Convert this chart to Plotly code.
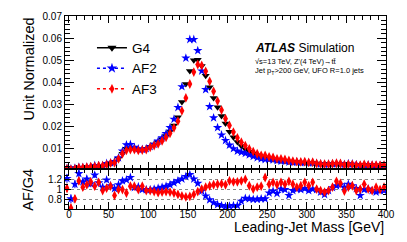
import plotly.graph_objects as go

# Bin centres (5 GeV bins)
mass = [-2.5 + 5 * i for i in range(81)]

g4 = [0.0010, 0.0011, 0.0012, 0.0013, 0.0014, 0.0015, 0.0017, 0.0019, 0.0021, 0.0024,
      0.0028, 0.0034, 0.0042, 0.0055, 0.0078, 0.0100, 0.0103, 0.0100, 0.0096, 0.0096,
      0.0101, 0.0110, 0.0120, 0.0131, 0.0143, 0.0158, 0.0178, 0.0205, 0.0243, 0.0312,
      0.0393, 0.0452, 0.0500, 0.0503, 0.0474, 0.0430, 0.0378, 0.0330, 0.0288, 0.0248,
      0.0215, 0.0177, 0.0152, 0.0131, 0.0113, 0.0098, 0.0087, 0.0078, 0.0071, 0.0066,
      0.0061, 0.0057, 0.0053, 0.0050, 0.0047, 0.0045, 0.0043, 0.0041, 0.0040, 0.0038,
      0.0037, 0.0036, 0.0035, 0.0034, 0.0033, 0.0032, 0.0032, 0.0031, 0.0030, 0.0030,
      0.0029, 0.0029, 0.0028, 0.0028, 0.0027, 0.0027, 0.0026, 0.0026, 0.0026, 0.0025,
      0.0025]

af2 = [0.0012, 0.0009, 0.0013, 0.0017, 0.0016, 0.0018, 0.0019, 0.0025, 0.0024, 0.0025,
       0.0034, 0.0037, 0.0043, 0.0060, 0.0090, 0.0118, 0.0120, 0.0107, 0.0100, 0.0098,
       0.0101, 0.0110, 0.0121, 0.0135, 0.0150, 0.0169, 0.0196, 0.0234, 0.0287, 0.0381,
       0.0510, 0.0594, 0.0594, 0.0544, 0.0452, 0.0368, 0.0291, 0.0240, 0.0196, 0.0163,
       0.0138, 0.0117, 0.0101, 0.0090, 0.0085, 0.0080, 0.0073, 0.0066, 0.0060, 0.0055,
       0.0052, 0.0052, 0.0051, 0.0047, 0.0045, 0.0045, 0.0040, 0.0039, 0.0041, 0.0038,
       0.0038, 0.0037, 0.0037, 0.0034, 0.0032, 0.0030, 0.0031, 0.0032, 0.0034, 0.0033,
       0.0030, 0.0033, 0.0032, 0.0029, 0.0024, 0.0027, 0.0028, 0.0026, 0.0025, 0.0025,
       0.0025]

af3 = [0.0010, 0.0007, 0.0010, 0.0015, 0.0015, 0.0017, 0.0020, 0.0020, 0.0024, 0.0024,
       0.0029, 0.0036, 0.0037, 0.0055, 0.0078, 0.0093, 0.0097, 0.0097, 0.0093, 0.0095,
       0.0097, 0.0107, 0.0115, 0.0123, 0.0136, 0.0152, 0.0170, 0.0195, 0.0225, 0.0272,
       0.0330, 0.0393, 0.0447, 0.0481, 0.0477, 0.0450, 0.0405, 0.0360, 0.0316, 0.0275,
       0.0236, 0.0206, 0.0176, 0.0150, 0.0130, 0.0115, 0.0100, 0.0088, 0.0078, 0.0071,
       0.0070, 0.0064, 0.0061, 0.0055, 0.0055, 0.0052, 0.0048, 0.0045, 0.0042, 0.0041,
       0.0042, 0.0039, 0.0040, 0.0034, 0.0032, 0.0031, 0.0031, 0.0033, 0.0035, 0.0034,
       0.0028, 0.0030, 0.0030, 0.0027, 0.0027, 0.0030, 0.0026, 0.0026, 0.0027, 0.0025,
       0.0026]

ratio_af2 = [1.23, 0.81, 1.11, 1.33, 1.16, 1.22, 1.12, 1.30, 1.14, 1.05,
             1.20, 1.08, 1.02, 1.10, 1.18, 1.20, 1.25, 1.04, 1.06, 1.00,
             1.00, 1.00, 1.01, 1.03, 1.05, 1.07, 1.10, 1.14, 1.18, 1.22,
             1.27, 1.31, 1.22, 1.13, 0.97, 0.87, 0.79, 0.73, 0.69, 0.67,
             0.65, 0.66, 0.67, 0.67, 0.76, 0.82, 0.81, 0.80, 0.80, 0.81,
             0.81, 0.93, 0.97, 0.92, 1.01, 1.00, 0.88, 0.98, 1.01, 1.00,
             1.02, 0.98, 1.01, 1.00, 0.95, 0.90, 0.98, 1.04, 1.08, 1.10,
             1.05, 1.11, 1.08, 1.02, 0.88, 1.00, 1.01, 0.98, 0.95, 0.98,
             0.98]

ratio_af3 = [1.03, 0.62, 0.81, 1.18, 1.05, 1.10, 1.16, 1.07, 1.15, 0.98,
             1.03, 1.07, 0.88, 1.00, 1.00, 0.93, 1.07, 1.07, 1.00, 1.07,
             0.98, 0.98, 0.96, 0.94, 0.95, 0.96, 0.95, 0.93, 0.90, 0.87,
             0.85, 0.86, 0.90, 0.96, 1.01, 1.05, 1.08, 1.10, 1.11, 1.12,
             1.10, 1.18, 1.16, 1.16, 1.18, 1.21, 1.08, 1.01, 1.05, 1.07,
             1.25, 1.11, 1.15, 1.10, 1.15, 1.11, 1.17, 1.11, 1.05, 1.08,
             1.15, 1.08, 1.15, 1.01, 0.98, 0.95, 0.98, 1.05, 1.17, 1.13,
             0.97, 1.05, 1.08, 0.98, 1.01, 1.11, 1.01, 0.98, 1.05, 1.00,
             1.05]

ratio_err = [0.09, 0.09, 0.08, 0.08, 0.07, 0.07, 0.07, 0.06, 0.06, 0.06,
             0.05, 0.05, 0.04, 0.04, 0.03, 0.02, 0.02, 0.02, 0.02, 0.02,
             0.02, 0.02, 0.02, 0.02, 0.02, 0.02, 0.02, 0.02, 0.01, 0.01,
             0.01, 0.01, 0.01, 0.01, 0.01, 0.01, 0.01, 0.01, 0.01, 0.02,
             0.02, 0.02, 0.02, 0.02, 0.02, 0.02, 0.02, 0.03, 0.03, 0.03,
             0.03, 0.03, 0.03, 0.03, 0.03, 0.03, 0.03, 0.03, 0.03, 0.03,
             0.04, 0.04, 0.04, 0.04, 0.04, 0.04, 0.04, 0.04, 0.04, 0.04,
             0.04, 0.04, 0.04, 0.04, 0.04, 0.04, 0.04, 0.04, 0.04, 0.04,
             0.04]

x_ticks = [0, 50, 100, 150, 200, 250, 300, 350, 400]
main_y_ticks = [0.01, 0.02, 0.03, 0.04, 0.05, 0.06, 0.07]
ratio_ticks = [0.8, 1.0, 1.2]
ratio_tick_text = ["0.8", "1", "1.2"]

FONT = "Liberation Sans, Arial, Helvetica, sans-serif"
BLUE = "#0000ff"
RED = "#ff0000"

fig = go.Figure()

# main panel
fig.add_trace(go.Scatter(x=mass, y=g4, mode="markers", xaxis="x", yaxis="y",
                         marker=dict(symbol="triangle-down", size=7, color="black"),
                         showlegend=False))
fig.add_trace(go.Scatter(x=mass, y=af2, mode="markers", xaxis="x", yaxis="y",
                         marker=dict(symbol="star", size=7, color=BLUE, line=dict(width=0)),
                         showlegend=False))
fig.add_trace(go.Scatter(x=mass, y=af3, mode="markers", xaxis="x", yaxis="y",
                         marker=dict(symbol="diamond-tall", size=7, color=RED, line=dict(width=0)),
                         showlegend=False))

# ratio panel
fig.add_trace(go.Scatter(x=mass, y=ratio_af2, mode="markers", xaxis="x2", yaxis="y2",
                         marker=dict(symbol="star", size=7, color=BLUE, line=dict(width=0)),
                         error_y=dict(type="data", array=ratio_err, color=BLUE, thickness=1, width=0),
                         showlegend=False))
fig.add_trace(go.Scatter(x=mass, y=ratio_af3, mode="markers", xaxis="x2", yaxis="y2",
                         marker=dict(symbol="diamond-tall", size=7, color=RED, line=dict(width=0)),
                         error_y=dict(type="data", array=ratio_err, color=RED, thickness=1, width=0),
                         showlegend=False))

# legend entries
fig.add_trace(go.Scatter(x=[None], y=[None], mode="lines+markers", name="G4",
                         line=dict(color="black", width=1.5),
                         marker=dict(symbol="triangle-down", size=8, color="black")))
fig.add_trace(go.Scatter(x=[None], y=[None], mode="lines+markers", name="AF2",
                         line=dict(color=BLUE, width=1.5, dash="dot"),
                         marker=dict(symbol="star", size=8, color=BLUE)))
fig.add_trace(go.Scatter(x=[None], y=[None], mode="lines+markers", name="AF3",
                         line=dict(color=RED, width=1.5, dash="dot"),
                         marker=dict(symbol="diamond-tall", size=7, color=RED)))

split = 0.206
axis_common = dict(showline=True, linecolor="black", linewidth=1, mirror="allticks",
                   ticks="inside", tickcolor="black", zeroline=False,
                   tickfont=dict(family=FONT, size=10, color="black"))

fig.update_layout(
    width=407, height=242,
    margin=dict(l=65, r=21, t=10, b=33),
    paper_bgcolor="white", plot_bgcolor="white",
    font=dict(family=FONT, color="black"),
    xaxis=dict(domain=[0, 1], anchor="y", range=[-5, 400], tickvals=x_ticks,
               showticklabels=False, ticklen=7, showgrid=False, matches="x2",
               minor=dict(dtick=10, tick0=0, ticks="inside", ticklen=4, tickcolor="black"),
               **axis_common),
    yaxis=dict(domain=[split, 1], anchor="x", range=[0.0008, 0.07], tickvals=main_y_ticks,
               tickformat=".2f", ticklen=9, showgrid=False,
               minor=dict(dtick=0.002, tick0=0, ticks="inside", ticklen=5, tickcolor="black"),
               **axis_common),
    xaxis2=dict(domain=[0, 1], anchor="y2", range=[-5, 400], tickvals=x_ticks,
                ticklen=7, showgrid=False, ticklabelstandoff=-4,
                minor=dict(dtick=10, tick0=0, ticks="inside", ticklen=4, tickcolor="black"),
                **axis_common),
    yaxis2=dict(domain=[0, split], anchor="x2", range=[0.6, 1.42], tickvals=ratio_ticks,
                ticktext=ratio_tick_text, ticklen=6, showgrid=True, gridcolor="#888888",
                griddash="dot", gridwidth=1,
                minor=dict(dtick=0.1, tick0=0, ticks="inside", ticklen=3, tickcolor="black"),
                **axis_common),
    legend=dict(x=0.084, y=0.915, xanchor="left", yanchor="top",
                bgcolor="rgba(0,0,0,0)", font=dict(family=FONT, size=13.5, color="black"),
                itemwidth=30, tracegroupgap=0),
    annotations=[
        dict(text="Unit Normalized", xref="paper", yref="paper", x=-0.115, y=1.0,
             xanchor="center", yanchor="top", textangle=-90, showarrow=False,
             font=dict(family=FONT, size=14.5, color="black")),
        dict(text="AF/G4", xref="paper", yref="paper", x=-0.115, y=0.1,
             xanchor="center", yanchor="middle", textangle=-90, showarrow=False,
             font=dict(family=FONT, size=14.5, color="black")),
        dict(text="Leading-Jet Mass [GeV]", xref="paper", yref="paper", x=1.0, y=-0.095,
             xanchor="right", yanchor="middle", showarrow=False,
             font=dict(family=FONT, size=14, color="black")),
        dict(text="<b><i>ATLAS</i></b> Simulation", xref="paper", yref="paper",
             x=(253 - 65) / 321, y=(209 - 43) / 199, xanchor="left", yanchor="middle",
             showarrow=False, font=dict(family=FONT, size=12, color="black")),
        dict(text="\u221as=13 TeV, Z'(4 TeV)\u2192tt\u0304", xref="paper", yref="paper",
             x=(253 - 65) / 321, y=(209 - 57) / 199, xanchor="left", yanchor="middle",
             showarrow=False, font=dict(family=FONT, size=7.5, color="black")),
        dict(text="Jet p<sub>T</sub>>200 GeV, UFO R=1.0 jets", xref="paper", yref="paper",
             x=(253 - 65) / 321, y=(209 - 67) / 199, xanchor="left", yanchor="middle",
             showarrow=False, font=dict(family=FONT, size=7.5, color="black")),
    ],
)

fig.write_html("out.html", config={"displayModeBar": False},
               post_script="document.body.style.margin='0px';")
